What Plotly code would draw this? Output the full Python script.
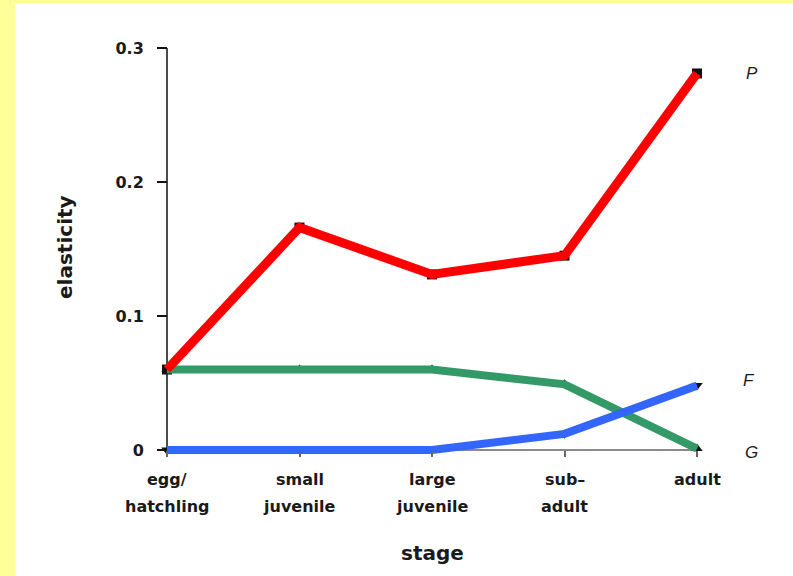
import plotly.graph_objects as go

# Stage-specific elasticities of population growth
stage_line1 = ["egg/", "small", "large", "sub–", "adult"]
stage_line2 = ["hatchling", "juvenile", "juvenile", "adult", ""]
stage_pos = [0, 1, 2, 3, 4]

p_vals = [0.060, 0.166, 0.131, 0.145, 0.281]   # P: stasis
f_vals = [0.060, 0.060, 0.060, 0.049, 0.001]   # F: fecundity
g_vals = [0.000, 0.000, 0.000, 0.012, 0.048]   # G: growth

y_ticks = [0, 0.1, 0.2, 0.3]
y_ticktext = ["0", "0.1", "0.2", "0.3"]

W, H = 793, 576
L, R, T, B = 155, 83, 48, 110
PX_PER_STAGE = 132.5
AXIS_X_PX = 167

pw = W - L - R
ph = H - T - B
x_min = -(AXIS_X_PX - L) / PX_PER_STAGE
x_max = x_min + pw / PX_PER_STAGE
y_min, y_max = -0.012, 0.3

FONT = "DejaVu Sans"
INK = "#1a1a1a"

fig = go.Figure()

# small black symbols sitting under the thick coloured lines
for vals, sym in [(p_vals, "square"), (f_vals, "triangle-up"), (g_vals, "triangle-down")]:
    fig.add_trace(go.Scatter(
        x=stage_pos, y=vals, mode="markers",
        marker=dict(symbol=sym, size=10, color="#111111"),
        showlegend=False, hoverinfo="skip"))

for vals, col, w in [(f_vals, "#339966", 8), (g_vals, "#3366FF", 8), (p_vals, "#FF0000", 9)]:
    fig.add_trace(go.Scatter(
        x=stage_pos, y=vals, mode="lines",
        line=dict(color=col, width=w),
        showlegend=False))

shapes = [
    # white sheet over the yellow page
    dict(type="rect", xref="paper", yref="paper", layer="below",
         x0=(15 - L) / pw, x1=(W + 5 - L) / pw,
         y0=(T + ph - (H + 5)) / ph, y1=(T + ph - 3) / ph,
         fillcolor="white", line=dict(width=0)),
    # vertical axis line
    dict(type="line", xref="x", yref="y", x0=0, x1=0, y0=-0.004, y1=0.3,
         line=dict(color="#111111", width=1.5), layer="below"),
    # horizontal axis line
    dict(type="line", xref="x", yref="y", x0=0, x1=4, y0=0, y1=0,
         line=dict(color="#8a8a8a", width=2), layer="below"),
]

annotations = []
for xi, a, b in zip(stage_pos, stage_line1, stage_line2):
    annotations.append(dict(x=xi, y=0, xref="x", yref="y", text=f"<b>{a}</b>",
                            showarrow=False, yanchor="middle", yshift=-30,
                            font=dict(family=FONT, size=16, color=INK)))
    if b:
        annotations.append(dict(x=xi, y=0, xref="x", yref="y", text=f"<b>{b}</b>",
                                showarrow=False, yanchor="middle", yshift=-57,
                                font=dict(family=FONT, size=16, color=INK)))

annotations += [
    dict(x=0, y=0.1515, xref="x", yref="y", xshift=-102, text="<b>elasticity</b>",
         textangle=-90, showarrow=False, font=dict(family=FONT, size=20, color=INK)),
    dict(x=2, y=0, xref="x", yref="y", yshift=-103, text="<b>stage</b>",
         showarrow=False, font=dict(family=FONT, size=20, color=INK)),
    dict(x=4, y=p_vals[-1], xref="x", yref="y", xshift=55, text="<i>P</i>",
         showarrow=False, font=dict(family="Liberation Sans", size=17, color=INK)),
    dict(x=4, y=g_vals[-1], xref="x", yref="y", xshift=52, yshift=5, text="<i>F</i>",
         showarrow=False, font=dict(family="Liberation Sans", size=17, color=INK)),
    dict(x=4, y=f_vals[-1], xref="x", yref="y", xshift=54, yshift=-4, text="<i>G</i>",
         showarrow=False, font=dict(family="Liberation Sans", size=17, color=INK)),
]

fig.update_layout(
    width=W, height=H,
    margin=dict(l=L, r=R, t=T, b=B),
    paper_bgcolor="#FFFF99",
    plot_bgcolor="white",
    shapes=shapes,
    annotations=annotations,
    xaxis=dict(range=[x_min, x_max], anchor="free",
               position=(0 - y_min) / (y_max - y_min),
               tickvals=stage_pos, showticklabels=False,
               ticks="outside", ticklen=6, tickwidth=1.5, tickcolor="#666666",
               showline=False, showgrid=False, zeroline=False),
    yaxis=dict(range=[y_min, y_max], anchor="free",
               position=(0 - x_min) / (x_max - x_min),
               tickvals=y_ticks, ticktext=[f"<b>{t}</b>" for t in y_ticktext],
               ticks="outside", ticklen=10, tickwidth=1.5, tickcolor="#111111",
               ticklabelstandoff=10,
               tickfont=dict(family=FONT, size=16, color=INK),
               showline=False, showgrid=False, zeroline=False),
)

fig.write_html("out.html")
